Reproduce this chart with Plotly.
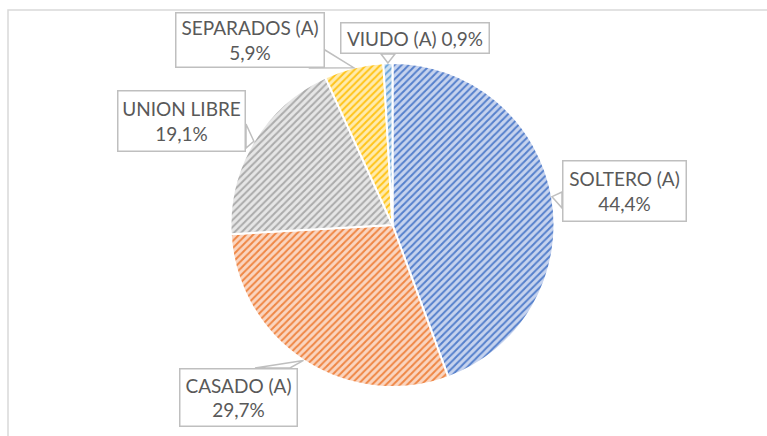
import math
import plotly.graph_objects as go

# ---- data ----
categories = ["SOLTERO (A)", "CASADO (A)", "UNION LIBRE", "SEPARADOS (A)", "VIUDO (A)"]
values = [44.4, 29.7, 19.1, 5.9, 0.9]
colors = ["#4472C4", "#ED7D31", "#A5A5A5", "#FFC000", "#5B9BD5"]
stripe_colors = ["#5580CC", "#EF8644", "#ABABAB", "#FFC41A", "#6AA5DA"]
light_colors = ["#C6D3EE", "#FAD5C0", "#E6E6E6", "#FFEBAD", "#CFE1F2"]

W, H = 767, 436
# pie geometry in pixels
cx, cy, R = 392.5, 225.0, 162.0

# callout boxes (left, top, right, bottom) in pixels, and tail base points
boxes = [(562, 160, 687, 222), (177, 12, 325, 68), (117, 90, 246, 152),
         (175, 12, 325, 68), (340, 22, 490, 54)]
boxes[1] = (179, 368, 298, 427)
tail_bases = [((562, 192), (562, 208)), ((255, 368), (290, 368)), ((246, 124), (246, 148)),
              ((325, 50), (310, 68)), ((381, 54), (395, 54))]
single_line = [False, False, False, False, True]


def px(x):
    return x / W


def py(y):
    return 1 - y / H


fig = go.Figure()
fig.add_trace(go.Pie(
    labels=categories, values=values, sort=False, direction="clockwise", rotation=0,
    textinfo="none", hoverinfo="label+percent", showlegend=False,
    domain=dict(x=[px(cx - R), px(cx + R)], y=[py(cy + R), py(cy - R)]),
    marker=dict(colors=colors, line=dict(color="white", width=2),
                pattern=dict(shape="/", fgcolor=stripe_colors, bgcolor=light_colors,
                             size=5, solidity=0.4)),
))

shapes = [dict(type="rect", xref="paper", yref="paper", x0=px(8), y0=-0.05, x1=1.05, y1=py(10),
               line=dict(color="#D9D9D9", width=1.5), fillcolor="rgba(0,0,0,0)", layer="below")]
annotations = []
total = sum(values)
cum = 0.0
for i, (cat, v) in enumerate(zip(categories, values)):
    mid = (cum + v / 2) / total * 2 * math.pi
    cum += v
    tx = cx + R * math.sin(mid)
    ty = cy - R * math.cos(mid)
    (bx0, by0), (bx1, by1) = tail_bases[i]
    path = "M {} {} L {} {} L {} {} Z".format(px(bx0), py(by0), px(tx), py(ty), px(bx1), py(by1))
    shapes.append(dict(type="path", xref="paper", yref="paper", path=path,
                       fillcolor="white", line=dict(color="#BFBFBF", width=1.5), layer="above"))
    pct = ("%.1f" % v).replace(".", ",") + "%"
    text = cat + (" " if single_line[i] else "<br>") + pct
    l, t, r, b = boxes[i]
    annotations.append(dict(
        xref="paper", yref="paper", x=px((l + r) / 2), y=py((t + b) / 2),
        xanchor="center", yanchor="middle", showarrow=False, text=text,
        width=r - l - 3, height=b - t - 3, borderpad=0, borderwidth=1.5,
        bordercolor="#BFBFBF", bgcolor="white", align="center",
        font=dict(family="Lato", size=19, color="#595959"),
    ))

fig.update_layout(
    width=W, height=H, margin=dict(l=0, r=0, t=0, b=0),
    paper_bgcolor="white", plot_bgcolor="white",
    shapes=shapes, annotations=annotations,
)
fig.write_html("out.html", config={"displayModeBar": False},
               post_script="document.body.style.margin='0px';")
